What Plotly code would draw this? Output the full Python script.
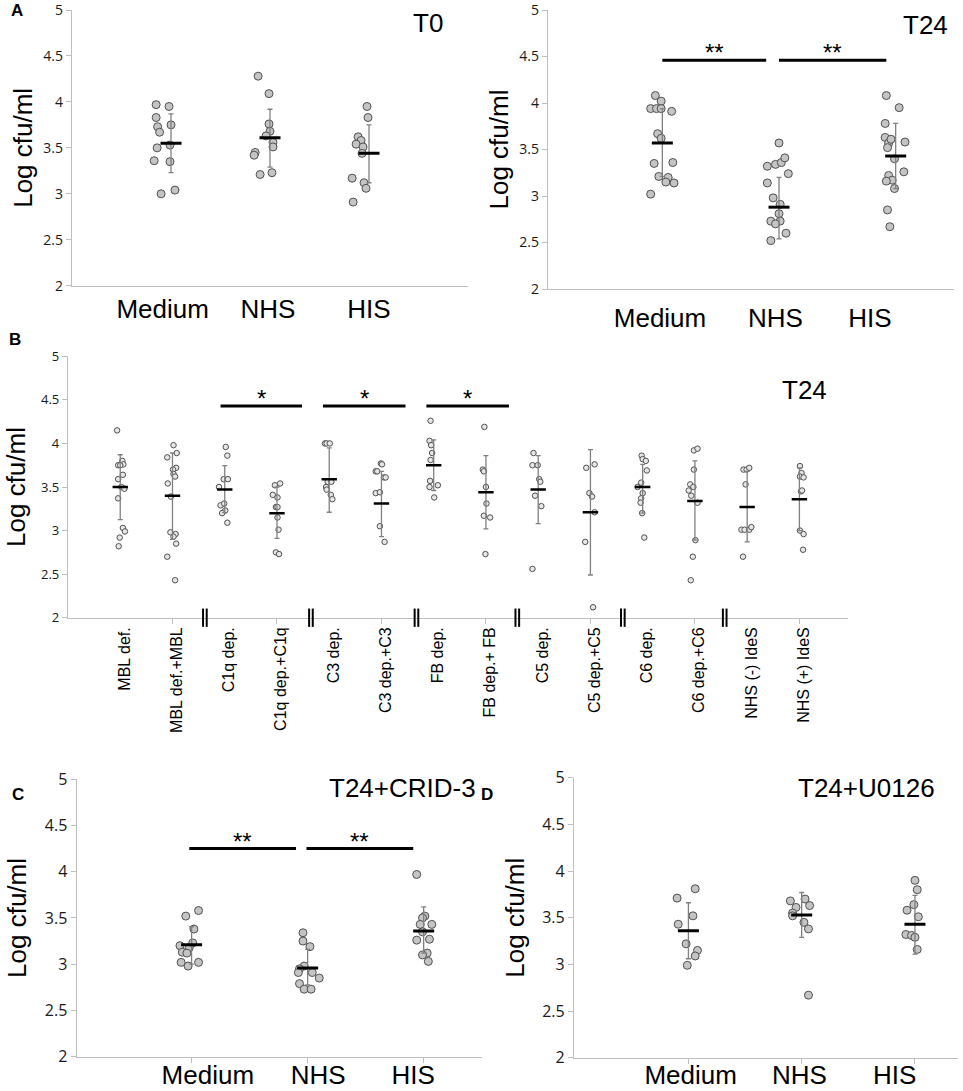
import plotly.graph_objects as go

FONT = 'Liberation Sans, Arial, sans-serif'
NUM_FONT = 'Open Sans, DejaVu Sans, sans-serif'
AXIS_GREY = '#bfbfbf'
BAR_GREY = '#808080'
W, H = 963, 1091

groups3 = ['Medium', 'NHS', 'HIS']

# Panel A, T0: values per group and horizontal jitter (category units)
t0_values = [[3.97, 3.95, 3.83, 3.73, 3.67, 3.75, 3.50, 3.53, 3.36, 3.35, 3.00, 3.04],
             [4.28, 4.09, 3.76, 3.68, 3.63, 3.56, 3.51, 3.45, 3.42, 3.21, 3.23],
             [3.95, 3.83, 3.62, 3.58, 3.54, 3.51, 3.44, 3.17, 3.12, 3.06, 2.91]]
t0_dx = [[-0.15, -0.02, -0.15, -0.135, -0.115, 0.0, -0.14, -0.01, -0.17, -0.01, -0.10, 0.04],
         [-0.12, -0.01, -0.01, 0.0, -0.04, 0.03, 0.03, -0.15, -0.16, -0.10, 0.02],
         [-0.02, -0.01, -0.11, -0.08, -0.13, -0.06, -0.07, -0.17, -0.05, -0.03, -0.16]]
t0_mean = [3.55, 3.61, 3.44]
t0_hi = [3.87, 3.92, 3.75]
t0_lo = [3.23, 3.29, 3.12]

# Panel A, T24
t24_values = [[4.08, 4.02, 3.94, 3.94, 3.94, 3.91, 3.67, 3.62, 3.35, 3.36, 3.21, 3.20, 3.15, 3.14, 3.02],
              [3.57, 3.32, 3.34, 3.36, 3.41, 3.24, 3.14, 2.98, 2.91, 2.81, 2.73, 2.73, 2.70, 2.60, 2.52],
              [4.08, 3.95, 3.78, 3.63, 3.57, 3.61, 3.52, 3.58, 3.40, 3.26, 3.22, 3.17, 3.16, 3.08, 2.85, 2.67]]
t24_dx = [[-0.06, -0.01, -0.10, -0.05, -0.01, 0.08, -0.04, -0.01, -0.07, 0.09, -0.03, 0.05, 0.03, 0.10, -0.10],
          [0.0, -0.10, -0.03, 0.02, 0.05, 0.08, -0.10, -0.05, 0.01, 0.0, -0.07, 0.01, -0.03, 0.06, -0.07],
          [-0.08, 0.03, -0.09, -0.09, -0.06, -0.04, -0.07, 0.08, -0.01, 0.07, -0.06, -0.03, -0.08, -0.01, -0.07, -0.05]]
t24_mean = [3.57, 2.88, 3.43]
t24_hi = [3.94, 3.20, 3.78]
t24_lo = [3.21, 2.54, 3.08]

# Panel B, T24 with depleted / deficient sera
b_labels = ['MBL def.', 'MBL def.+MBL', 'C1q dep.', 'C1q dep.+C1q', 'C3 dep.', 'C3 dep.+C3',
            'FB dep.', 'FB dep.+ FB', 'C5 dep.', 'C5 dep.+C5', 'C6 dep.', 'C6 dep.+C6',
            'NHS (-) IdeS', 'NHS (+) IdeS']
b_values = [[4.15, 3.80, 3.76, 3.75, 3.75, 3.64, 3.59, 3.50, 3.48, 3.37, 3.03, 2.99, 2.92, 2.82],
            [3.98, 3.89, 3.84, 3.72, 3.70, 3.65, 3.62, 3.54, 3.39, 2.98, 2.96, 2.93, 2.85, 2.70, 2.43],
            [3.96, 3.86, 3.59, 3.59, 3.50, 3.29, 3.31, 3.23, 3.20, 3.09],
            [3.52, 3.54, 3.41, 3.38, 3.27, 3.27, 3.15, 3.01, 2.75, 2.73],
            [4.00, 4.00, 4.00, 3.56, 3.56, 3.50, 3.47, 3.41, 3.36],
            [3.77, 3.76, 3.68, 3.68, 3.61, 3.61, 3.43, 3.44, 3.05, 2.87],
            [4.26, 4.03, 3.98, 3.89, 3.81, 3.57, 3.50, 3.52, 3.38],
            [4.19, 3.70, 3.68, 3.50, 3.31, 3.17, 3.15, 2.73],
            [3.89, 3.75, 3.75, 3.59, 3.56, 3.40, 3.28, 2.56],
            [3.76, 3.72, 3.43, 3.39, 3.21, 2.87, 2.12],
            [3.86, 3.82, 3.80, 3.69, 3.55, 3.50, 3.43, 3.37, 3.32, 3.20, 2.92],
            [3.92, 3.94, 3.70, 3.53, 3.50, 3.46, 3.40, 3.32, 2.89, 2.70, 2.43],
            [3.70, 3.70, 3.72, 3.53, 3.01, 3.01, 3.01, 3.04, 2.70],
            [3.74, 3.66, 3.62, 3.61, 3.45, 3.46, 3.00, 2.96, 2.78]]
b_dx = [[-0.06, 0.04, 0.06, -0.04, 0.0, 0.05, -0.04, 0.02, 0.08, -0.04, 0.05, 0.09, -0.01, -0.03],
        [0.02, 0.08, -0.10, 0.07, 0.01, 0.02, 0.05, -0.09, -0.03, -0.04, 0.06, 0.02, 0.07, -0.10, 0.05],
        [0.02, 0.05, -0.02, 0.06, -0.11, -0.08, -0.01, 0.01, -0.05, 0.05],
        [-0.04, 0.06, -0.08, 0.01, -0.02, 0.01, 0.01, 0.03, -0.02, 0.04],
        [-0.08, -0.05, 0.01, -0.03, 0.04, -0.06, -0.05, 0.03, 0.06],
        [-0.01, 0.01, -0.11, -0.08, 0.05, 0.08, -0.11, -0.03, -0.03, 0.06],
        [-0.06, -0.08, -0.05, -0.03, -0.06, -0.07, -0.08, 0.08, 0.01],
        [-0.03, -0.06, -0.04, 0.0, 0.01, -0.04, 0.08, -0.01],
        [-0.09, -0.11, -0.01, 0.02, 0.04, -0.06, 0.06, -0.11],
        [0.08, -0.08, -0.02, 0.03, 0.08, -0.10, 0.05],
        [-0.02, 0.0, 0.06, 0.08, -0.03, -0.10, 0.0, -0.03, -0.04, -0.01, 0.03],
        [-0.02, 0.05, -0.02, -0.09, -0.03, -0.12, -0.07, 0.05, 0.01, -0.04, -0.08],
        [-0.07, -0.01, 0.04, -0.03, -0.11, -0.05, 0.04, 0.08, -0.08],
        [0.01, 0.04, 0.01, 0.08, 0.03, 0.05, 0.01, 0.08, 0.07]]
b_mean = [3.50, 3.40, 3.47, 3.20, 3.59, 3.31, 3.75, 3.44, 3.47, 3.21, 3.50, 3.34, 3.27, 3.36]
b_hi = [3.87, 3.89, 3.745, 3.50, 3.95, 3.68, 4.04, 3.86, 3.86, 3.93, 3.76, 3.80, 3.68, 3.72]
b_lo = [3.125, 2.90, 3.205, 2.91, 3.21, 2.93, 3.46, 3.02, 3.08, 2.49, 3.20, 2.89, 2.87, 3.00]
b_separators = [1.62, 3.65, 5.67, 7.6, 9.62, 11.57]

# Panel C, T24+CRID-3
c_values = [[3.52, 3.58, 3.38, 3.20, 3.18, 3.13, 3.12, 3.23, 3.02, 2.98, 3.02],
            [3.34, 3.25, 3.19, 2.98, 2.95, 2.91, 2.91, 2.85, 2.79, 2.73, 2.73],
            [3.97, 3.52, 3.50, 3.43, 3.43, 3.35, 3.26, 3.27, 3.12, 3.10, 3.03]]
c_dx = [[-0.05, 0.06, 0.02, -0.10, -0.02, -0.08, -0.04, 0.01, -0.09, -0.03, 0.06],
        [-0.04, -0.04, 0.02, -0.03, -0.07, -0.08, 0.04, 0.10, -0.07, -0.03, 0.03],
        [-0.06, 0.01, -0.01, -0.03, 0.07, -0.01, -0.06, 0.05, 0.03, -0.01, 0.04]]
c_mean = [3.21, 2.96, 3.36]
c_hi = [3.405, 3.16, 3.62]
c_lo = [3.00, 2.775, 3.12]

# Panel D, T24+U0126
d_values = [[3.81, 3.71, 3.52, 3.43, 3.22, 3.15, 3.09, 2.99],
            [3.68, 3.70, 3.61, 3.63, 3.55, 3.52, 3.45, 3.38, 2.67],
            [3.90, 3.80, 3.64, 3.58, 3.51, 3.32, 3.31, 3.29, 3.16]]
d_dx = [[0.06, -0.10, 0.04, -0.09, -0.02, 0.08, 0.06, -0.01],
        [-0.10, 0.03, -0.05, 0.07, -0.08, -0.08, 0.02, 0.06, 0.06],
        [0.0, 0.02, -0.01, -0.07, 0.03, -0.08, -0.03, 0.0, 0.02]]
d_mean = [3.36, 3.53, 3.43]
d_hi = [3.66, 3.77, 3.74]
d_lo = [3.06, 3.29, 3.11]

# significance brackets: (x start, x end, y, star text)
t24_sig = [(1.0, 1.89, 4.46, '**'), (2.0, 2.92, 4.46, '**')]
b_sig = [(1.92, 3.48, 4.43, '*'), (3.88, 5.46, 4.43, '*'), (5.86, 7.44, 4.43, '*')]
c_sig = [(0.98, 1.90, 4.25, '**'), (1.99, 2.91, 4.25, '**')]


def fx(px):
    return px / W


def fy(py):
    return 1 - py / H


fig = go.Figure()


def add_groups(ax, positions, values, dx, means, hi, lo, pt_size, pt_fill, mean_size, mean_width):
    xa, ya = 'x' + ax, 'y' + ax
    for pos, vals, offs in zip(positions, values, dx):
        fig.add_trace(go.Scatter(
            x=[pos + o for o in offs], y=vals, mode='markers',
            xaxis=xa, yaxis=ya, hoverinfo='y',
            marker=dict(size=pt_size, color=pt_fill,
                        line=dict(color='#505050', width=1))))
    fig.add_trace(go.Scatter(
        x=positions, y=means, mode='markers', xaxis=xa, yaxis=ya,
        marker=dict(symbol='line-ew', size=mean_size,
                    line=dict(color='black', width=mean_width)),
        error_y=dict(type='data', symmetric=False,
                     array=[h - m for h, m in zip(hi, means)],
                     arrayminus=[m - l for m, l in zip(means, lo)],
                     color=BAR_GREY, thickness=1.3, width=2.5)))


def add_sig(ax, sigs, star_size, star_lift):
    for x0, x1, y, txt in sigs:
        fig.add_shape(type='line', xref='x' + ax, yref='y' + ax,
                      x0=x0, x1=x1, y0=y, y1=y,
                      line=dict(color='black', width=3))
        fig.add_annotation(x=(x0 + x1) / 2, y=y, xref='x' + ax, yref='y' + ax,
                           text=txt, showarrow=False, yanchor='bottom',
                           yshift=star_lift,
                           font=dict(family=FONT, size=star_size, color='black'))


pos3 = [1, 2, 3]
add_groups('', pos3, t0_values, t0_dx, t0_mean, t0_hi, t0_lo, 8, '#c4c4c4', 15, 3)
add_groups('2', pos3, t24_values, t24_dx, t24_mean, t24_hi, t24_lo, 8, '#c4c4c4', 15, 3)
add_groups('3', list(range(len(b_labels))), b_values, b_dx, b_mean, b_hi, b_lo, 5.5, '#e6e6e6', 11, 2.5)
add_groups('4', pos3, c_values, c_dx, c_mean, c_hi, c_lo, 8, '#c4c4c4', 15, 3)
add_groups('5', pos3, d_values, d_dx, d_mean, d_hi, d_lo, 8, '#c4c4c4', 15, 3)

add_sig('2', t24_sig, 24, -8)
add_sig('3', b_sig, 24, -8)
add_sig('4', c_sig, 24, -8)

# double-bar separators on the B axis
for s in b_separators:
    for off in (-0.035, 0.035):
        fig.add_shape(type='line', xref='x3', yref='y3 domain',
                      x0=s + off, x1=s + off, y0=-0.035, y1=0.035,
                      line=dict(color='black', width=2))


def y_axis(top, bottom, anchor, tick_size, standoff):
    return dict(domain=[fy(bottom), fy(top)], anchor=anchor, range=[2, 5],
                automargin=False, ticklabeloverflow='allow',
                tickvals=[2, 2.5, 3, 3.5, 4, 4.5, 5],
                ticktext=['2', '2.5', '3', '3.5', '4', '4.5', '5'],
                showline=True, linecolor=AXIS_GREY, linewidth=1.3,
                ticks='outside', ticklen=5, tickcolor=AXIS_GREY,
                showgrid=False, zeroline=False,
                tickfont=dict(family=NUM_FONT, size=tick_size, color='#1a1a1a'),
                title=dict(text='Log cfu/ml', standoff=standoff,
                           font=dict(family=FONT, size=26, color='black')))


def x_axis(left, right, anchor, rng, tickvals, ticktext, size=26, minor_vals=None,
           angle=0, standoff=0):
    ax = dict(domain=[fx(left), fx(right)], anchor=anchor, range=rng,
              automargin=False, ticklabeloverflow='allow',
              tickmode='array', tickvals=tickvals, ticktext=ticktext,
              tickangle=angle, ticks='', ticklabelstandoff=standoff,
              showline=True, linecolor=AXIS_GREY,
              linewidth=1.3, showgrid=False, zeroline=False,
              tickfont=dict(family=FONT, size=size, color='black'))
    if minor_vals is not None:
        ax['minor'] = dict(tickmode='array', tickvals=minor_vals, ticks='outside',
                           ticklen=5, tickcolor=AXIS_GREY, showgrid=False)
    return ax


fig.update_layout(
    width=W, height=H,
    margin=dict(l=0, r=0, t=0, b=0, autoexpand=False),
    paper_bgcolor='white', plot_bgcolor='white',
    showlegend=False,
    font=dict(family=FONT, color='black'),
    xaxis=x_axis(72, 468, 'y', [0, 4.0], [0.916, 1.98, 3.0], groups3),
    yaxis=y_axis(10, 285.7, 'x', 14, 3),
    xaxis2=x_axis(548, 954, 'y2', [0.02, 3.5], [0.98, 1.97, 2.78], groups3, standoff=6),
    yaxis2=y_axis(10, 289, 'x2', 14, 3),
    xaxis3=x_axis(68, 848, 'y3', [-1.0, 13.93],
                  [i + 0.08 for i in range(len(b_labels))], b_labels, size=16,
                  minor_vals=[1, 3, 5, 7, 9, 11, 13], angle=-90, standoff=2),
    yaxis3=y_axis(356.3, 617.7, 'x3', 13, 7),
    xaxis4=x_axis(76.7, 481.7, 'y4', [0.01, 3.5], [1.14, 2.09, 2.91], groups3,
                  minor_vals=[1, 2, 3], standoff=-5),
    yaxis4=y_axis(779.2, 1056.7, 'x4', 16, 10),
    xaxis5=x_axis(574, 958, 'y5', [-0.01, 3.38], [1.02, 1.98, 2.82], groups3,
                  minor_vals=[1, 2, 3], standoff=-6),
    yaxis5=y_axis(777.7, 1057.7, 'x5', 16, 10),
)

panel_titles = [('T0', 428, 23), ('T24', 925, 25), ('T24', 804, 390),
                ('T24+CRID-3', 402, 788), ('T24+U0126', 866, 788)]
for txt, x, y in panel_titles:
    fig.add_annotation(x=fx(x), y=fy(y), xref='paper', yref='paper', text=txt,
                       showarrow=False, xanchor='center', yanchor='middle',
                       font=dict(family=FONT, size=26, color='black'))

panel_letters = [('A', 17, 11), ('B', 15, 339), ('C', 18, 794), ('D', 487, 794)]
for txt, x, y in panel_letters:
    fig.add_annotation(x=fx(x), y=fy(y), xref='paper', yref='paper',
                       text='<b>' + txt + '</b>', showarrow=False,
                       xanchor='center', yanchor='middle',
                       font=dict(family=FONT, size=17, color='black'))

# drop the default page margin so the figure sits at the window's corner
fig.write_html("out.html", config={'displayModeBar': False},
               post_script="document.body.style.margin = '0';")
